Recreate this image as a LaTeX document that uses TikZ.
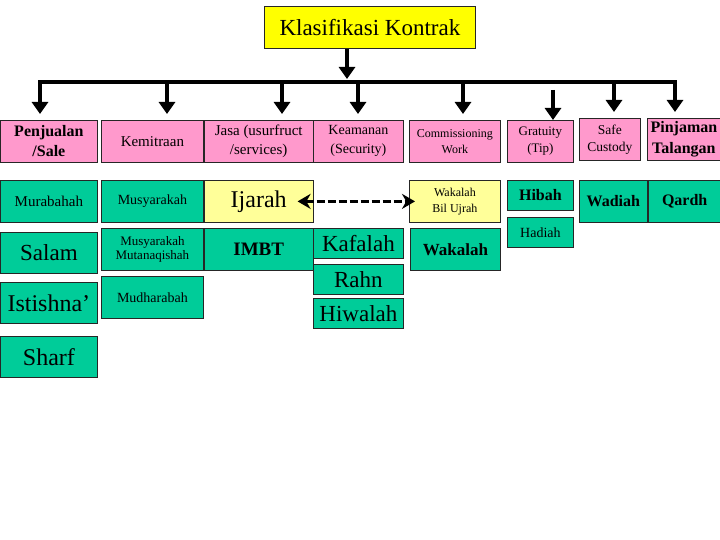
\documentclass[tikz,border=0pt]{standalone}
\usepackage{fontspec}
\setmainfont{Liberation Serif}
\usetikzlibrary{arrows.meta, positioning}
\definecolor{pinkbg}{HTML}{FF99CC}
\definecolor{greenbg}{HTML}{00CC99}
\definecolor{lemon}{HTML}{FFFF99}
\definecolor{titlebg}{HTML}{FFFF00}
\newcommand{\fsz}[2]{\fontsize{#1}{#2}\selectfont}

\begin{document}
\begin{tikzpicture}[x=1pt, y=-1pt, >=Stealth]
    \tikzstyle{box} = [rectangle, draw=black!85, line width=0.8pt, anchor=north west, inner sep=1pt, align=center]
    \tikzstyle{pinkbox} = [box, fill=pinkbg, minimum height=42]
    \tikzstyle{greenbox} = [box, fill=greenbg]
    \tikzstyle{lemonbox} = [box, fill=lemon, minimum height=42]
    \tikzstyle{arr} = [line width=4pt, -{Triangle[width=16pt, length=12pt]}]
    \tikzstyle{dasharr} = [line width=3pt, dash pattern=on 8pt off 3pt, {Stealth[width=15pt, length=13pt]}-{Stealth[width=15pt, length=13pt]}]

    \useasboundingbox (0,0) rectangle (720,540);

    % Title
    \node [box, fill=titlebg, minimum width=211, minimum height=42, font=\fsz{23}{25}] (title) at (264,6) {Klasifikasi Kontrak};

    % Row 1 (kinds of contract)
    \node [pinkbox, minimum width=97, font=\fsz{16}{20}\bfseries] (sale) at (0,120) {Penjualan\\/Sale};
    \node [pinkbox, minimum width=102, font=\fsz{15}{19}] (mitra) at (101,120) {Kemitraan};
    \node [pinkbox, minimum width=109, font=\fsz{15}{19}, right=0pt of mitra] (jasa) {Jasa (usurfruct\\/services)};
    \node [pinkbox, minimum width=90, font=\fsz{14}{19}] (aman) at (313,120) {Keamanan\\(Security)};
    \node [pinkbox, minimum width=91, font=\fsz{12}{16}] (komisi) at (409,120) {Commissioning\\Work};
    \node [pinkbox, minimum width=66, font=\fsz{13}{17}] (grat) at (507,120) {Gratuity\\(Tip)};
    \node [pinkbox, minimum width=61, font=\fsz{13.5}{17}] (safe) at (579,118) {Safe\\Custody};
    \node [pinkbox, minimum width=73, font=\fsz{16}{21}\bfseries] (pinjam) at (647,118) {Pinjaman\\Talangan};

    % Row 2
    \node [greenbox, minimum width=97, minimum height=42, font=\fsz{15}{18}] (murabahah) at (0,180) {Murabahah};
    \node [greenbox, minimum width=102, minimum height=42, font=\fsz{14}{17}] (musyarakah) at (101,180) {Musyarakah};
    \node [lemonbox, minimum width=109, font=\fsz{24}{26}, right=0pt of musyarakah] (ijarah) {Ijarah};
    \node [lemonbox, minimum width=91, font=\fsz{12}{16}] (wub) at (409,180) {Wakalah\\Bil Ujrah};
    \node [greenbox, minimum width=66, minimum height=30, font=\fsz{16}{18}\bfseries] (hibah) at (507,180) {Hibah};
    \node [greenbox, minimum width=66, minimum height=30, font=\fsz{14}{16}] (hadiah) at (507,217) {Hadiah};
    \node [greenbox, minimum width=68, minimum height=42, font=\fsz{16}{18}\bfseries] (wadiah) at (579,180) {Wadiah};
    \node [greenbox, minimum width=73, minimum height=42, font=\fsz{16}{18}\bfseries, right=0pt of wadiah] (qardh) {Qardh};

    % Row 3 and below
    \node [greenbox, minimum width=97, minimum height=41, font=\fsz{23}{25}] (salam) at (0,232) {Salam};
    \node [greenbox, minimum width=102, minimum height=42, font=\fsz{13}{14}] (mm) at (101,228) {Musyarakah\\Mutanaqishah};
    \node [greenbox, minimum width=109, minimum height=42, font=\fsz{19}{21}\bfseries, right=0pt of mm] (imbt) {IMBT};
    \node [greenbox, minimum width=90, minimum height=30, font=\fsz{23}{25}] (kafalah) at (313,228) {Kafalah};
    \node [greenbox, minimum width=90, minimum height=30, font=\fsz{23}{25}] (rahn) at (313,264) {Rahn};
    \node [greenbox, minimum width=90, minimum height=30, font=\fsz{23}{25}] (hiwalah) at (313,298) {Hiwalah};
    \node [greenbox, minimum width=90, minimum height=42, font=\fsz{17}{19}\bfseries] (wakalah) at (410,228) {Wakalah};
    \node [greenbox, minimum width=97, minimum height=41, font=\fsz{24}{26}] (istishna) at (0,282) {Istishna’};
    \node [greenbox, minimum width=102, minimum height=42, font=\fsz{14}{17}] (mudharabah) at (101,276) {Mudharabah};
    \node [greenbox, minimum width=97, minimum height=41, font=\fsz{24}{26}] (sharf) at (0,336) {Sharf};

    % Connections
    \coordinate (ttip) at (347,79);
    \draw [arr] (title.south -| ttip) -- (ttip);
    \foreach \x/\n in {40/sale, 167/mitra, 282/jasa, 358/aman, 463/komisi, 614/safe, 675/pinjam}
        \coordinate (b\n) at (\x,82);
    \draw [line width=4pt, line cap=rect] (bsale) -- (bpinjam);
    \foreach \n in {sale, mitra, jasa, aman, komisi, safe, pinjam}
        \draw [arr, shorten >=6pt] (b\n) -- (b\n |- \n.north);
    \coordinate (bgrat) at (553,90);
    \draw [arr] (bgrat) -- (bgrat |- grat.north);

    \draw [dasharr, shorten <=-16pt, shorten >=-6pt] (ijarah.east) -- (wub.west);
\end{tikzpicture}
\end{document}
